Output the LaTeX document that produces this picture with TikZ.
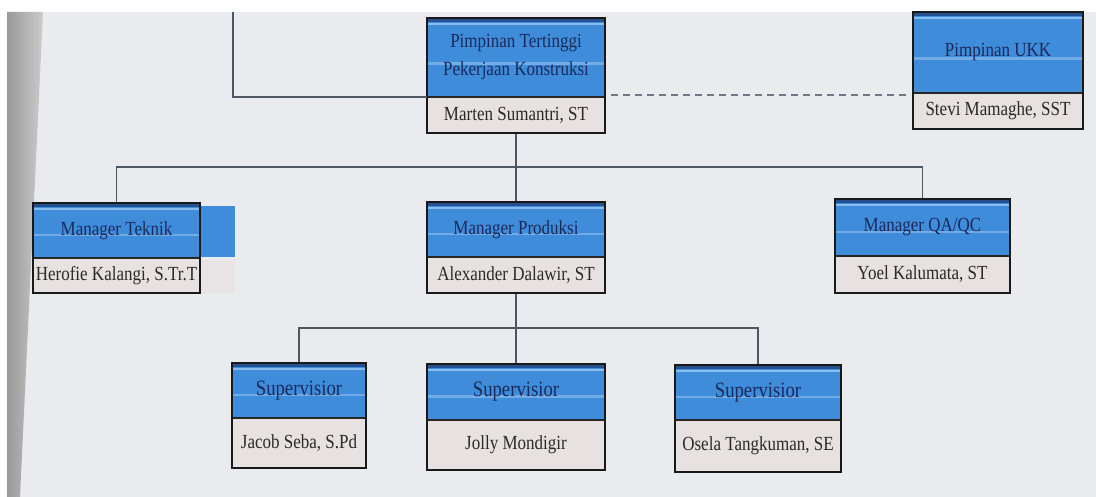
\documentclass[tikz,border=0pt]{standalone}
\usepackage{fontspec}
\setmainfont{Liberation Serif}[FakeStretch=0.85]
\usetikzlibrary{calc,fit}
\definecolor{bg}{HTML}{EAEBEF}
\definecolor{bluefill}{HTML}{3F8CDA}
\definecolor{bluedark}{HTML}{24508F}
\definecolor{bluelight}{HTML}{9CC8F2}
\definecolor{namefill}{HTML}{E7E1E1}
\definecolor{titlecol}{HTML}{1B2A5C}
\definecolor{namecol}{HTML}{2A2A2A}
\definecolor{linecol}{HTML}{4E5563}
\tikzset{
  boxframe/.style={draw=black!90, line width=1.8pt, inner sep=0pt},
  titletxt/.style={text=titlecol, inner sep=0pt, align=center, font=\fontsize{20}{28}\selectfont},
  suptxt/.style={titletxt, font=\fontsize{22}{28}\selectfont},
  nametxt/.style={text=namecol, inner sep=0pt, font=\fontsize{20}{24}\selectfont},
  conn/.style={draw=linecol, line width=1.3pt},
  dashconn/.style={draw=linecol!80, line width=1.3pt, dash pattern=on 7pt off 5pt}
}
% #1 name, #2 left, #3 top, #4 right, #5 divider, #6 bottom, #7 title style, #8 title, #9 person
\newcommand\obox[9]{%
  \fill[bluefill] (#2,-#3) rectangle (#4,-#5);
  \fill[bluedark] (#2,-#3) rectangle (#4,-#3-4);
  \fill[bluelight, opacity=0.8] (#2,-#3-5) rectangle (#4,-#3-7);
  \fill[bluelight, opacity=0.55] (#2,{-(#3+(#5-#3)*0.56)}) rectangle (#4,{-(#3+(#5-#3)*0.56)-2.5});
  \fill[namefill] (#2,-#5) rectangle (#4,-#6);
  \draw[black!85, line width=1.5pt] (#2,-#5) -- (#4,-#5);
  \coordinate (#1-nw) at (#2,-#3);
  \coordinate (#1-se) at (#4,-#6);
  \coordinate (#1-dw) at (#2,-#5);
  \coordinate (#1-de) at (#4,-#5);
  \node[boxframe, fit=(#1-nw)(#1-se)] (#1) {};
  \node[#7] (#1-t) at ({(#2+#4)/2},{-(#3+#5)/2}) {#8};
  \node[nametxt] (#1-p) at ({(#2+#4)/2},{-(#5+#6)/2}) {#9};
}
\begin{document}
\begin{tikzpicture}[x=1pt,y=1pt]
\useasboundingbox (0,0) rectangle (1096,-497);
\fill[bg] (0,0) rectangle (1096,-497);
\fill[white] (0,0) rectangle (1096,-12);
\fill[white] (0,0) rectangle (7,-497);
\shade[left color=black!40, right color=black!20] (7,-12) -- (43,-12) -- (20,-497) -- (7,-497) -- cycle;

% overflow strip beside Manager Teknik
\fill[bluefill] (200,-206) rectangle (235,-257);
\fill[namefill!70!bg] (200,-260) rectangle (235,-293);

\obox{top}{427}{18}{605}{97}{133}{titletxt}{Pimpinan Tertinggi\\Pekerjaan Konstruksi}{Marten Sumantri, ST}
\obox{ukk}{913}{12}{1083}{93}{129}{titletxt}{Pimpinan UKK}{Stevi Mamaghe, SST}
\obox{teknik}{33}{203}{200}{258}{293}{titletxt}{Manager Teknik}{Herofie Kalangi, S.Tr.T}
\obox{prod}{427}{202}{605}{257}{293}{titletxt}{Manager Produksi}{Alexander Dalawir, ST}
\obox{qa}{835}{199}{1010}{256}{293}{titletxt}{Manager QA/QC}{Yoel Kalumata, ST}
\obox{sup1}{232}{363}{366}{418}{468}{suptxt}{Supervisior}{Jacob Seba, S.Pd}
\obox{sup2}{427}{364}{605}{420}{470}{suptxt}{Supervisior}{Jolly Mondigir}
\obox{sup3}{675}{365}{841}{420}{472}{suptxt}{Supervisior}{Osela Tangkuman, SE}

\coordinate (corner) at (233,-12);
\coordinate (bus) at (0,-167);
\coordinate (bus2) at (0,-328);

\draw[conn] (corner) |- (top-dw);
\draw[dashconn] ($(top-de)+(6,2)$) -- ($(top-de -| ukk.west)+(-3,2)$);
\draw[conn] (top.south) -- (prod.north);
\draw[conn] (teknik.north) |- (qa.north |- bus) -- (qa.north);
\draw[conn] (prod.south) -- (sup2.north);
\draw[conn] (sup1.north) |- (sup3.north |- bus2) -- (sup3.north);
\end{tikzpicture}
\end{document}
